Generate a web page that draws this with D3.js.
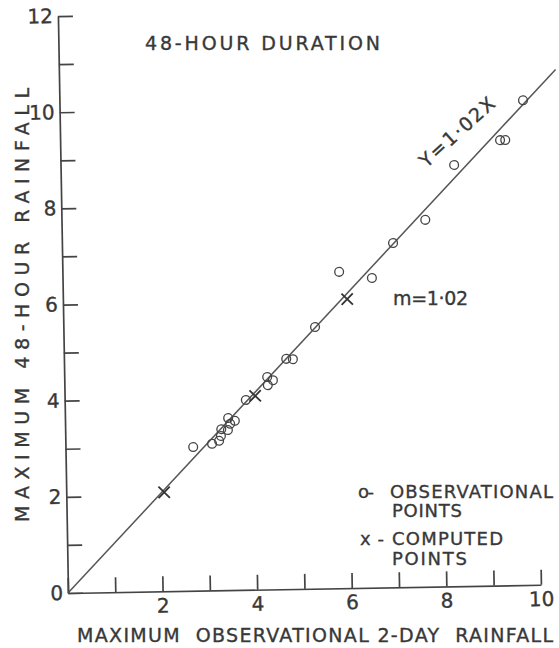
<!DOCTYPE html>
<html>
<head>
<meta charset="utf-8">
<script src="https://cdn.jsdelivr.net/npm/d3@7"></script>
<style>
  body { margin: 0; background: #fff; }
  text { font-family: "DejaVu Sans", sans-serif; fill: #383838; stroke: #383838; stroke-width: 0.35; }
</style>
</head>
<body>
<script>
//Width and height
var w = 559;
var h = 648;

//Observational points (o)
var obsX = [2.70, 3.10, 3.25, 3.29, 3.30, 3.44, 3.49, 3.45, 3.59, 3.83, 4.29, 4.41, 4.30, 4.70, 4.84, 5.32, 5.85, 6.54, 7.00, 7.69, 8.32, 9.30, 9.41, 9.80];
var obsY = [2.99, 3.05, 3.11, 3.21, 3.35, 3.33, 3.46, 3.58, 3.52, 3.95, 4.42, 4.35, 4.25, 4.79, 4.78, 5.44, 6.58, 6.44, 7.16, 7.63, 8.76, 9.26, 9.26, 10.08];

//Computed points (x)
var compX = [2.07, 4.03, 6.01];
var compY = [2.06, 4.03, 6.01];

//Fitted line Y = 1.02 X
var slope = 1.02;
var lineX = [0, 10.5];

//Ticks
var xTicks = d3.range(0, 11);
var yTicks = d3.range(0, 13);
var xLabels = [2, 4, 6, 8, 10];
var yLabels = [0, 2, 4, 6, 8, 10, 12];

var svg = d3.select("body")
            .append("svg")
            .attr("width", w)
            .attr("height", h);

//the scanned plot is turned about a degree, so the plot group is too
var plot = svg.append("g")
              .attr("transform", "translate(68,593) rotate(-1)");

var x = d3.scaleLinear().domain([0, 10]).range([0, 473]);
var y = d3.scaleLinear().domain([0, 12]).range([0, -577]);

var xAxis = d3.axisBottom(x)
              .tickValues(xTicks)
              .tickSizeInner(-15)
              .tickSizeOuter(0)
              .tickPadding(7)
              .tickFormat(function(d) { return xLabels.indexOf(d) >= 0 ? d : ""; });

var yAxis = d3.axisLeft(y)
              .tickValues(yTicks)
              .tickSizeInner(-15)
              .tickSizeOuter(0)
              .tickPadding(5)
              .tickFormat(function(d) { return yLabels.indexOf(d) >= 0 ? d : ""; });

var gx = plot.append("g").call(xAxis);
var gy = plot.append("g").call(yAxis);

[gx, gy].forEach(function(g) {
    g.selectAll("path, line").attr("stroke", "#444").attr("stroke-width", 1.7);
    g.selectAll("text")
     .attr("font-size", 20)
     .attr("font-family", "DejaVu Sans, sans-serif")
     .attr("fill", "#383838");
});

//Regression line
var line = d3.line()
             .x(function(d) { return x(d); })
             .y(function(d) { return y(slope * d); });

plot.append("path")
    .datum(lineX)
    .attr("d", line)
    .attr("fill", "none")
    .attr("stroke", "#555")
    .attr("stroke-width", 1.5);

//Observational circles
plot.selectAll("circle.obs")
    .data(obsX)
    .enter()
    .append("circle")
    .attr("class", "obs")
    .attr("cx", function(d) { return x(d); })
    .attr("cy", function(d, i) { return y(obsY[i]); })
    .attr("r", 4.4)
    .attr("fill", "none")
    .attr("stroke", "#444")
    .attr("stroke-width", 1.3);

//Computed crosses
var cross = d3.symbol().type(d3.symbolTimes).size(85);
plot.selectAll("path.comp")
    .data(compX)
    .enter()
    .append("path")
    .attr("class", "comp")
    .attr("d", cross)
    .attr("transform", function(d, i) { return "translate(" + x(d) + "," + y(compY[i]) + ")"; })
    .attr("fill", "none")
    .attr("stroke", "#333")
    .attr("stroke-width", 1.8);

//Titles and notes
svg.append("text")
   .attr("x", 145).attr("y", 50)
   .attr("font-size", 19)
   .attr("textLength", 235)
   .text("48-HOUR DURATION");

svg.append("text")
   .attr("x", 77).attr("y", 642)
   .attr("font-size", 19)
   .attr("textLength", 476)
   .attr("xml:space", "preserve")
   .text("MAXIMUM  OBSERVATIONAL 2-DAY  RAINFALL");

svg.append("text")
   .attr("transform", "translate(29,522) rotate(-90)")
   .attr("font-size", 19)
   .attr("textLength", 434)
   .text("MAXIMUM 48-HOUR RAINFALL");

svg.append("text")
   .attr("transform", "translate(457,132) rotate(-42)")
   .attr("text-anchor", "middle")
   .attr("dy", "0.35em")
   .attr("font-size", 19)
   .attr("textLength", 94)
   .text("Y=1·02X");

svg.append("text")
   .attr("x", 393).attr("y", 305)
   .attr("font-size", 19)
   .attr("textLength", 75)
   .text("m=1·02");

//Legend
var legend = [
    { t: "o-", x: 358, y: 498, len: 16 },
    { t: "OBSERVATIONAL", x: 390, y: 498, len: 163 },
    { t: "POINTS", x: 392, y: 517, len: 70 },
    { t: "x-", x: 360, y: 545, len: 24 },
    { t: "COMPUTED", x: 392, y: 545, len: 111 },
    { t: "POINTS", x: 392, y: 565, len: 75 }
];
svg.selectAll("text.leg")
   .data(legend)
   .enter()
   .append("text")
   .attr("class", "leg")
   .attr("x", function(d) { return d.x; })
   .attr("y", function(d) { return d.y; })
   .attr("textLength", function(d) { return d.len; })
   .attr("font-size", 18)
   .text(function(d) { return d.t; });
</script>
</body>
</html>
